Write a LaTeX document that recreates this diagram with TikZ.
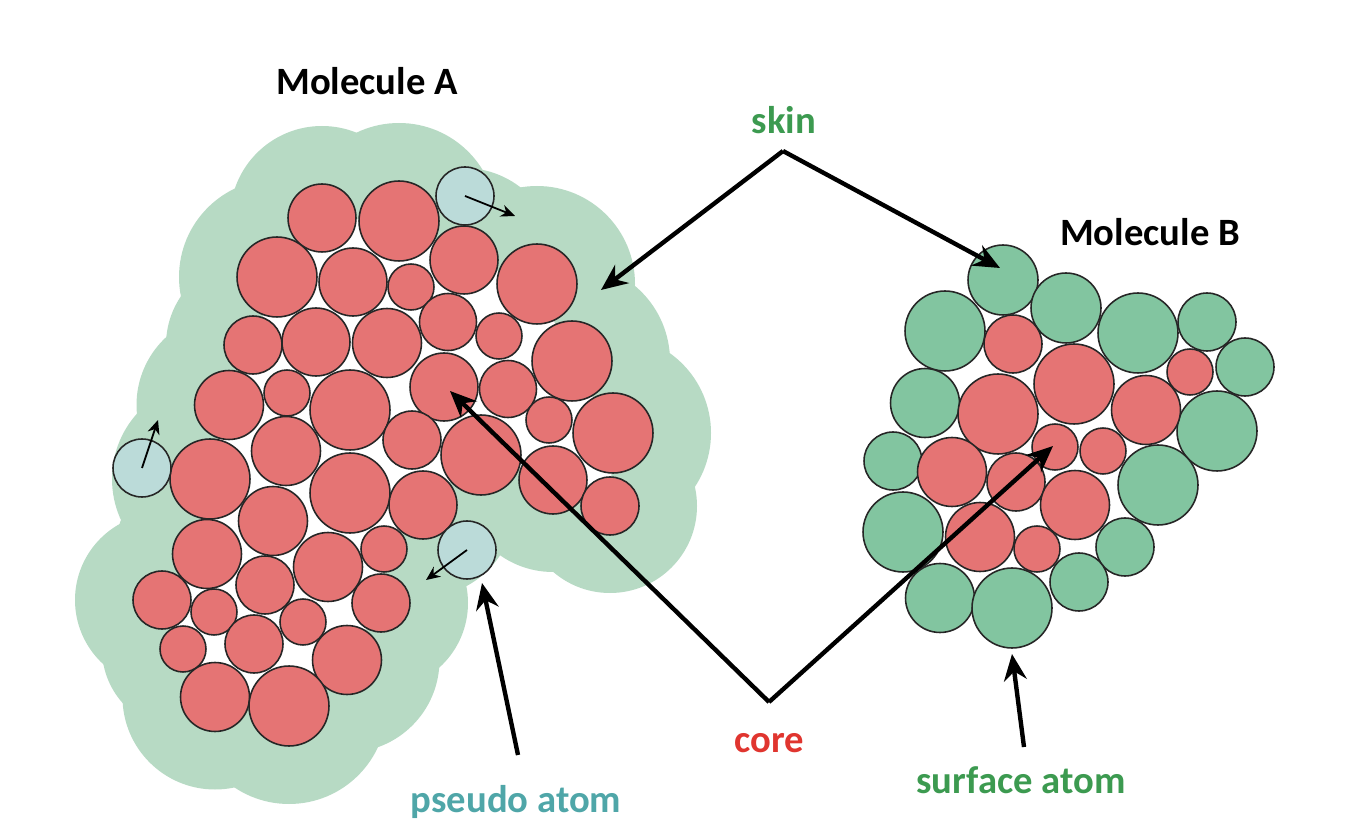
\documentclass[tikz,border=0pt]{standalone}
\usepackage{fontspec}
\setmainfont{Carlito}
\usetikzlibrary{arrows.meta,backgrounds}
\definecolor{corered}{HTML}{E57474}
\definecolor{surfgreen}{HTML}{82C5A0}
\definecolor{skingreen}{HTML}{B7DAC4}
\definecolor{pseudoblue}{HTML}{BBDBD9}
\definecolor{labelgreen}{HTML}{3C9A50}
\definecolor{labelred}{HTML}{E0352F}
\definecolor{labelteal}{HTML}{4FA6A8}
\tikzset{
    atom/.style={circle,draw=black!85,line width=.9pt,inner sep=0pt},
    corepart/.style={atom,fill=corered},
    surfpart/.style={atom,fill=surfgreen},
    pseudopart/.style={atom,fill=pseudoblue},
    bigarrow/.style={line width=2.5pt,-{Stealth[length=15pt,width=13pt,inset=5pt]}},
    smallarrow/.style={line width=1pt,-{Stealth[length=8pt,width=7pt]}},
    lbl/.style={font=\fontsize{22}{26}\selectfont\bfseries}
}
\def\atomsA{322/218/34,399/221/40,464/260/34,277/277/40,353/282/34,411/287/23,537/284/40,
    448/322/28.5,499/336/23,253/345/29,316/342/34,387/343/34.5,572/361/40,444/387/34,
    508/389/28.5,229/405/34.5,287/393/23,350/410/40,549/420/23,613/433/40,412/440/29,
    481/455/40,286/451/34.5,210/479/40,350/493/40,553/480/34,610/506/29,423/505/34,
    273/521/34.5,207/554/34.5,328/567/34.5,384/549/23,265/585/29,381/603/29,162/600/29,
    214/612/23,303/622/23,254/644/29,183/649/23,347/660/34.5,215/697/34.5,289/706/40}
\begin{document}
\begin{tikzpicture}[x=.02cm,y=-.02cm]
    \useasboundingbox (0,0) rectangle (1359,837);
    % molecule A
    \foreach \x/\y/\r [count=\i] in \atomsA
        \node[corepart,minimum size=\r*.04cm] (a\i) at (\x,\y) {};
    \node[pseudopart,minimum size=1.16cm] (pa) at (465,196) {};
    \node[pseudopart,minimum size=1.16cm] (pb) at (142,468) {};
    \node[pseudopart,minimum size=1.16cm] (pc) at (467,550) {};
    % skin with the holes left white
    \begin{pgfonlayer}{background}
        \foreach \x/\y/\r in \atomsA
            \fill[skingreen] (\x,\y) circle[radius=\r+58];
        \fill[white] (a1.center) -- (a2.center) -- (a3.center) -- (a7.center) -- (a13.center)
            -- (a20.center) -- (a27.center) -- (a26.center) -- (a22.center) -- (a28.center)
            -- (a32.center) -- (a34.center) -- (a40.center) -- (a42.center) -- (a41.center)
            -- (a39.center) -- (a35.center) -- (a30.center) -- (a24.center) -- (a16.center)
            -- (a10.center) -- (a4.center) -- cycle;
    \end{pgfonlayer}
    \coordinate (pa end) at (515,216);
    \coordinate (pb end) at (158,420);
    \coordinate (pc end) at (426,580);
    \draw[smallarrow] (pa.center) -- (pa end);
    \draw[smallarrow] (pb.center) -- (pb end);
    \draw[smallarrow] (pc.center) -- (pc end);
    % molecule B
    \foreach \x/\y/\r [count=\i] in {1003/280/35,945/331/40,1066/308/35,1138/333/40,1207/322/29,
        1245/367/29,925/403/34.5,1217/431/40,893/461/29,1158/485/40,903/532/40,1125/547/29,
        940/598/34.5,1079/582/29,1012/608/40}
        \node[surfpart,minimum size=\r*.04cm] (s\i) at (\x,\y) {};
    \foreach \x/\y/\r [count=\i] in {1013/344/29,1074/384/40,1190/372/23,998/414/40,1146/410/34.5,
        952/472/34.5,1055/447/23,1103/451/23,1016/482/29,1075/505/34.5,980/537/34.5,1037/549/23}
        \node[corepart,minimum size=\r*.04cm] (c\i) at (\x,\y) {};
    % labels
    \node[lbl] (molA) at (367,81) {Molecule A};
    \node[lbl] (molB) at (1150,232) {Molecule B};
    \node[lbl,text=labelgreen] (skin) at (784,120) {skin};
    \node[lbl,text=labelred] (core) at (769,743) {core};
    \node[lbl,text=labelteal] (pseudo) at (516,802) {pseudo atom};
    \node[lbl,text=labelgreen] (surface) at (1021,780) {surface atom};
    % big arrows
    \coordinate (skin top) at (783,151);
    \coordinate (skin A) at (601,290);
    \coordinate (skin B) at (1000,268);
    \coordinate (core low) at (769,702);
    \coordinate (core A) at (450,391);
    \coordinate (core B) at (1053,446);
    \coordinate (pseudo start) at (518,755);
    \coordinate (pseudo end) at (482,583);
    \coordinate (surface start) at (1024,747);
    \coordinate (surface end) at (1012,654);
    \draw[bigarrow] (skin top) -- (skin A);
    \draw[bigarrow] (skin top) -- (skin B);
    \draw[bigarrow] (core low) -- (core A);
    \draw[bigarrow] (core low) -- (core B);
    \draw[bigarrow] (pseudo start) -- (pseudo end);
    \draw[bigarrow] (surface start) -- (surface end);
\end{tikzpicture}
\end{document}
